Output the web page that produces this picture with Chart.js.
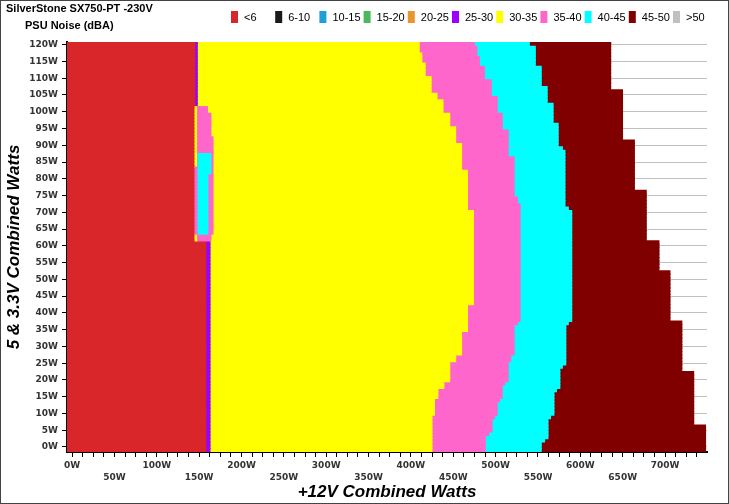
<!DOCTYPE html>
<html>
<head>
<meta charset="utf-8">
<script src="https://cdn.jsdelivr.net/npm/chart.js@4.4.1/dist/chart.umd.min.js"></script>
<style>
  html, body { margin: 0; padding: 0; background: #fff; }
  #wrap { width: 729px; height: 504px; position: relative; }
</style>
</head>
<body>
<div id="wrap"><canvas id="noiseChart" width="729" height="504"></canvas></div>
<script>
// legend classes (dBA)
const legendLabels = ['<6', '6-10', '10-15', '15-20', '20-25', '25-30', '30-35', '35-40', '40-45', '45-50', '>50'];
const legendColors = ['#d9262b', '#1a1a1a', '#1e9fd6', '#4cb85c', '#e8952e', '#9b00ff', '#ffff00', '#ff66cc', '#00ffff', '#800000', '#c0c0c0'];

// axis ticks (W)
const yTicks = [0, 5, 10, 15, 20, 25, 30, 35, 40, 45, 50, 55, 60, 65, 70, 75, 80, 85, 90, 95, 100, 105, 110, 115, 120];
const xTicks = [0, 12.5, 25, 37.5, 50, 62.5, 75, 87.5, 100, 112.5, 125, 137.5, 150, 162.5, 175, 187.5, 200,
  212.5, 225, 237.5, 250, 262.5, 275, 287.5, 300, 312.5, 325, 337.5, 350, 362.5, 375, 387.5, 400,
  412.5, 425, 437.5, 450, 462.5, 475, 487.5, 500, 512.5, 525, 537.5, 550, 562.5, 575, 587.5, 600,
  612.5, 625, 637.5, 650, 662.5, 675, 687.5, 700, 712.5, 725, 737.5];

// rows: 5V & 3.3V combined load (W), bottom to top
const minorWatts = [-1, 0, 1, 2, 3, 4, 5, 6, 7, 8, 9, 10, 11, 12, 13, 14, 15, 16, 17, 18, 19, 20,
  21, 22, 23, 24, 25, 26, 27, 28, 29, 30, 31, 32, 33, 34, 35, 36, 37, 38, 39, 40,
  41, 42, 43, 44, 45, 46, 47, 48, 49, 50, 51, 52, 53, 54, 55, 56, 57, 58, 59, 60,
  61, 62, 63, 64, 65, 66, 67, 68, 69, 70, 71, 72, 73, 74, 75, 76, 77, 78, 79, 80,
  81, 82, 83, 84, 85, 86, 87, 88, 89, 90, 91, 92, 93, 94, 95, 96, 97, 98, 99, 100,
  101, 102, 103, 104, 105, 106, 107, 108, 109, 110, 111, 112, 113, 114, 115, 116, 117, 118, 119, 120, 121];

// +12V load (W) where each noise class ends, per row
const redEnd = [158, 158, 158, 158, 158, 158, 158, 158, 158, 158, 158, 158, 158, 158, 158, 158, 158, 158, 158, 158, 158, 158,
  158, 158, 158, 158, 158, 158, 158, 158, 158, 158, 158, 158, 158, 158, 158, 158, 158, 158, 158, 158,
  158, 158, 158, 158, 158, 158, 158, 158, 158, 158, 158, 158, 158, 158, 158, 158, 158, 158, 158, 158,
  158, 145, 145, 145, 145, 145, 145, 145, 145, 145, 145, 145, 145, 145, 145, 145, 145, 145, 145, 145,
  145, 145, 145, 145, 145, 145, 145, 145, 145, 145, 145, 145, 145, 145, 145, 145, 145, 145, 145, 145,
  145, 145, 145, 145, 145, 145, 145, 145, 145, 145, 145, 145, 145, 145, 145, 145, 145, 145, 145, 145, 145];
const purpleEnd = [163, 163, 163, 163, 163, 163, 163, 163, 163, 163, 163, 163, 163, 163, 163, 163, 163, 163, 163, 163, 163, 163,
  163, 163, 163, 163, 163, 163, 163, 163, 163, 163, 163, 163, 163, 163, 163, 163, 163, 163, 163, 163,
  163, 163, 163, 163, 163, 163, 163, 163, 163, 163, 163, 163, 163, 163, 163, 163, 163, 163, 163, 163,
  163, null, null, null, null, null, null, null, null, null, null, null, null, null, null, null, null, null, null, null,
  null, null, null, null, null, null, null, null, null, null, null, null, null, null, null, null, null, null, null, null,
  null, 148, 148, 148, 148, 148, 148, 148, 148, 148, 148, 148, 148, 148, 148, 148, 148, 148, 148, 148, 148];
const yellowEnd = [425, 425, 425, 425, 425, 425, 425, 425, 425, 425, 425, 428, 428, 428, 428, 428, 432, 432, 432, 439, 439, 446,
  446, 446, 446, 446, 446, 453, 453, 460, 460, 460, 460, 460, 460, 460, 467, 467, 467, 467, 467, 467,
  467, 467, 474, 474, 474, 474, 474, 474, 474, 474, 474, 474, 474, 474, 474, 474, 474, 474, 474, 474,
  474, 474, 474, 474, 474, 474, 474, 474, 474, 474, 467, 467, 467, 467, 467, 467, 467, 467, 467, 467,
  467, 467, 460, 460, 460, 460, 460, 460, 460, 460, 453, 453, 453, 453, 453, 446, 446, 446, 446, 438,
  438, 438, 438, 431, 431, 424, 424, 424, 424, 424, 417, 417, 417, 417, 413, 413, 413, 410, 410, 410, 410, 410];
const pinkEnd = [488, 488, 488, 488, 488, 492, 496, 496, 496, 496, 499, 502, 502, 502, 502, 505, 508, 508, 508, 508, 511, 515,
  515, 515, 515, 515, 515, 518, 518, 522, 522, 522, 522, 522, 522, 522, 522, 522, 526, 529, 529, 529,
  529, 529, 529, 529, 529, 529, 529, 529, 529, 529, 529, 529, 529, 529, 529, 529, 529, 529, 529, 529,
  529, 529, 529, 529, 529, 529, 529, 529, 529, 529, 529, 529, 526, 526, 522, 522, 522, 522, 522, 522,
  522, 522, 522, 522, 522, 522, 515, 515, 515, 515, 515, 515, 515, 515, 508, 508, 508, 508, 508, 502,
  502, 502, 502, 502, 495, 495, 495, 495, 495, 487, 487, 487, 487, 481, 481, 481, 478, 478, 478, 475, 475, 475];
const cyanEnd = [554, 554, 554, 558, 562, 562, 562, 562, 562, 562, 565, 569, 569, 569, 569, 569, 569, 569, 572, 576, 576, 576,
  576, 576, 576, 579, 583, 583, 583, 583, 583, 583, 583, 583, 583, 583, 583, 583, 586, 590, 590, 590,
  590, 590, 590, 590, 590, 590, 590, 590, 590, 590, 590, 590, 590, 590, 590, 590, 590, 590, 590, 590,
  590, 590, 590, 590, 590, 590, 590, 590, 590, 590, 586, 582, 582, 582, 582, 582, 582, 582, 582, 582,
  582, 582, 582, 582, 582, 582, 582, 582, 579, 574, 574, 574, 574, 574, 574, 574, 568, 568, 568, 568,
  568, 568, 561, 561, 561, 561, 561, 554, 554, 554, 554, 554, 554, 547, 547, 547, 547, 547, 547, 540, 540, 540];
const maxLoad = [748, 748, 748, 748, 748, 748, 748, 748, 734, 734, 734, 734, 734, 734, 734, 734, 734, 734, 734, 734, 734, 734,
  734, 734, 720, 720, 720, 720, 720, 720, 720, 720, 720, 720, 720, 720, 720, 720, 720, 706, 706, 706,
  706, 706, 706, 706, 706, 706, 706, 706, 706, 706, 706, 706, 693, 693, 693, 693, 693, 693, 693, 693,
  693, 678, 678, 678, 678, 678, 678, 678, 678, 678, 678, 678, 678, 678, 678, 678, 664, 664, 664, 664,
  664, 664, 664, 664, 664, 664, 664, 664, 664, 664, 664, 650, 650, 650, 650, 650, 650, 650, 650, 650,
  650, 650, 650, 650, 650, 650, 636, 636, 636, 636, 636, 636, 636, 636, 636, 636, 636, 636, 636, 636, 636, 636];

// the odd patch next to the <6 area, rows 62W..101W
const islandWatts = [62, 63, 64, 65, 66, 67, 68, 69, 70, 71, 72, 73, 74, 75, 76, 77, 78, 79, 80, 81,
  82, 83, 84, 85, 86, 87, 88, 89, 90, 91, 92, 93, 94, 95, 96, 97, 98, 99, 100, 101];
const islandYellowEnd = [148, 148, null, null, null, null, null, null, null, null, null, null, null, null, null, null, null, null, null, null,
  null, null, 148, 148, 148, 148, 148, 148, 148, 148, 148, 148, 148, 148, 148, 148, 148, 148, 148, 148];
const islandPinkEnd = [164, 164, 166.5, 166.5, 166.5, 166.5, 166.5, 166.5, 166.5, 166.5, 166.5, 166.5, 166.5, 166.5, 166.5, 166.5, 166.5, 166.5, 166.5, 166.5,
  166.5, 166.5, 166.5, 166.5, 166.5, 166.5, 166.5, 166.5, 166.5, 166.5, 166.5, 164, 164, 164, 164, 164, 164, 164, 160, 160];
const islandCyan = [null, null, [148.5, 160.5], [148.5, 160.5], [148.5, 160.5], [148.5, 160.5], [148.5, 160.5], [148.5, 160.5],
  [148.5, 160.5], [148.5, 160.5], [148.5, 160.5], [148.5, 160.5], [148.5, 160.5], [148.5, 160.5], [148.5, 160.5], [148.5, 160.5],
  [148.5, 160.5], [148.5, 160.5], [148.5, 160.5], [148.5, 160.5], [148.5, 164], [148.5, 164], [148.5, 164], [148.5, 164],
  [148.5, 164], [148.5, 164], null, null, null, null, null, null, null, null, null, null, null, null, null, null];

const X_MIN = -6;
const X_MAX = 749.5;
const Y_MIN = -1.5;
const Y_MAX = 120.8;

document.addEventListener('DOMContentLoaded', () => {
    const ctx = document.querySelector('#noiseChart').getContext('2d');

    const islandIdx = w => islandWatts.indexOf(w);
    const seg = (fn) => {
        const out = [];
        minorWatts.forEach((w, i) => {
            const r = fn(w, i, islandIdx(w));
            if (r) out.push({ y: w, x: r });
        });
        return out;
    };

    const bar = (label, color, data) => ({
        label: label,
        data: data,
        backgroundColor: color,
        borderWidth: 0,
        barThickness: 4,
        grouped: false,
        clip: 0
    });

    const datasets = [
        bar('40-45', legendColors[8], seg((w, i, j) => j >= 0 && islandCyan[j] ? islandCyan[j] : null)),
        bar('35-40', legendColors[7], seg((w, i, j) => j >= 0 ? [islandYellowEnd[j] ?? redEnd[i], islandPinkEnd[j]] : null)),
        bar('30-35', legendColors[6], seg((w, i, j) => j >= 0 && islandYellowEnd[j] ? [redEnd[i], islandYellowEnd[j]] : null)),
        bar('<6', legendColors[0], seg((w, i) => [X_MIN, redEnd[i]])),
        bar('25-30', legendColors[5], seg((w, i) => purpleEnd[i] != null ? [redEnd[i], purpleEnd[i]] : null)),
        bar('30-35', legendColors[6], seg((w, i, j) => [purpleEnd[i] ?? islandPinkEnd[j], yellowEnd[i]])),
        bar('35-40', legendColors[7], seg((w, i) => [yellowEnd[i], pinkEnd[i]])),
        bar('40-45', legendColors[8], seg((w, i) => [pinkEnd[i], cyanEnd[i]])),
        bar('45-50', legendColors[9], seg((w, i) => [cyanEnd[i], maxLoad[i]]))
    ];

    const headerPlugin = {
        id: 'header',
        beforeDraw(chart) {
            const c = chart.ctx;
            c.save();
            c.fillStyle = '#fff';
            c.fillRect(0, 0, chart.width, chart.height);
            c.restore();
        },
        afterDraw(chart) {
            const c = chart.ctx;
            c.save();
            c.fillStyle = '#000';
            c.textBaseline = 'alphabetic';
            c.font = 'bold 11px "Liberation Sans", Arial, sans-serif';
            c.fillText('SilverStone SX750-PT -230V', 6, 12);
            c.fillText('PSU Noise (dBA)', 25, 29);
            c.font = '11px "Liberation Sans", Arial, sans-serif';
            legendLabels.forEach((lab, k) => {
                const x = 231 + k * 44.2;
                c.fillStyle = legendColors[k];
                c.fillRect(x, 11, 7, 12);
                c.fillStyle = '#000';
                c.fillText(lab, x + 13, 21);
            });
            c.strokeStyle = '#444';
            c.lineWidth = 1;
            c.strokeRect(0.5, 0.5, chart.width - 1, chart.height - 1);
            c.restore();
        }
    };

    const tickFont = { family: '"DejaVu Sans", Verdana, sans-serif', size: 9, weight: 'bold', lineHeight: 1.3 };

    new Chart(ctx, {
        type: 'bar',
        data: { datasets: datasets },
        options: {
            indexAxis: 'y',
            responsive: false,
            animation: false,
            events: [],
            layout: { padding: { top: 42, right: 22, bottom: 0, left: 0 } },
            plugins: { legend: { display: false }, tooltip: { enabled: false } },
            scales: {
                x: {
                    type: 'linear',
                    min: X_MIN,
                    max: X_MAX,
                    bounds: 'data',
                    offset: false,
                    grid: { drawOnChartArea: false, offset: false, color: '#000', tickLength: 5 },
                    border: { color: '#000', width: 2 },
                    afterBuildTicks: (s) => { s.ticks = xTicks.map(v => ({ value: v })); },
                    ticks: {
                        autoSkip: false,
                        maxRotation: 0,
                        minRotation: 0,
                        padding: 3,
                        color: '#333',
                        font: tickFont,
                        callback: (v) => {
                            if (v % 100 === 0) return v + 'W';
                            if (v % 50 === 0) return ['', v + 'W'];
                            return '';
                        }
                    },
                    title: {
                        display: true,
                        text: '+12V Combined Watts',
                        color: '#000',
                        font: { family: '"Liberation Sans", Arial, sans-serif', size: 17, style: 'italic', weight: 'bold' },
                        padding: { top: 0, bottom: 1 }
                    },
                    afterFit: (s) => { s.height = 52; }
                },
                y: {
                    type: 'linear',
                    min: Y_MIN,
                    max: Y_MAX,
                    bounds: 'data',
                    offset: false,
                    grid: { color: '#c0c0c0', offset: false, tickColor: '#000', tickLength: 5 },
                    border: { color: '#000', width: 2 },
                    afterBuildTicks: (s) => { s.ticks = yTicks.map(v => ({ value: v })); },
                    ticks: {
                        autoSkip: false,
                        padding: 4,
                        color: '#333',
                        font: tickFont,
                        callback: (v) => v + 'W'
                    },
                    title: {
                        display: true,
                        text: '5 & 3.3V Combined Watts',
                        color: '#000',
                        font: { family: '"Liberation Sans", Arial, sans-serif', size: 17, style: 'italic', weight: 'bold' },
                        padding: { top: 4, bottom: 0 }
                    },
                    afterFit: (s) => { s.width = 67; }
                }
            }
        },
        plugins: [headerPlugin]
    });
});
</script>
</body>
</html>
